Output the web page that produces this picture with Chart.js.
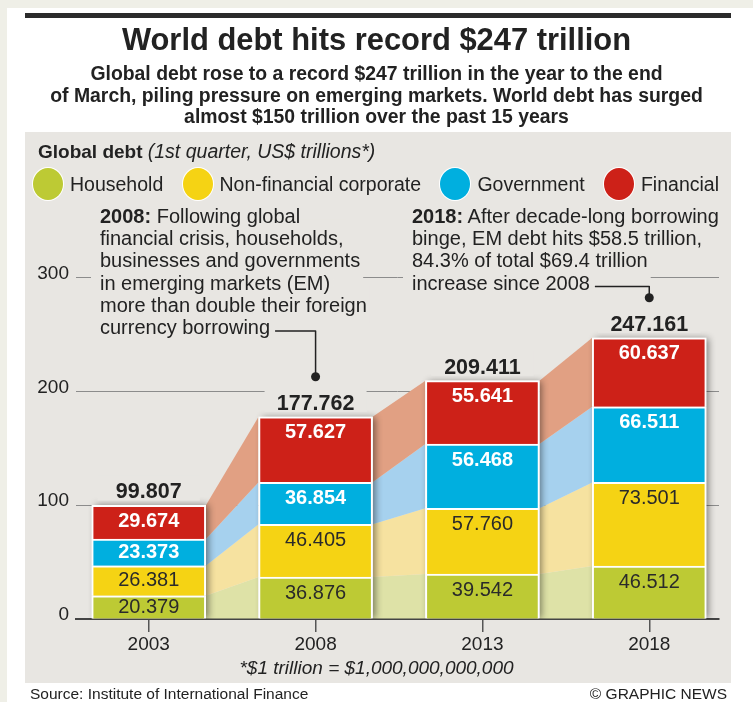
<!DOCTYPE html>
<html>
<head>
<meta charset="utf-8">
<script src="https://cdn.jsdelivr.net/npm/chart.js@4.4.1/dist/chart.umd.min.js"></script>
<style>
  body { margin: 0; width: 753px; height: 702px; position: relative; overflow: hidden; background: #fff;
         font-family: "Liberation Sans", Arial, sans-serif; color: #222; }
  .abs { position: absolute; }
  #topband { left: 0; top: 0; width: 753px; height: 8px; background: #efefe7; }
  #leftband { left: 0; top: 0; width: 7px; height: 702px; background: #efefe7; }
  #rule { left: 25px; top: 13px; width: 706px; height: 5px; background: #2b2b2b; }
  #panel { left: 25px; top: 132px; width: 706px; height: 551px; background: #e8e6e2; }
  #chart { position: absolute; left: 0; top: 0; }
  #title { left: 0; width: 753px; top: 22px; text-align: center; font-weight: bold; font-size: 30.9px; line-height: 35px; }
  #subtitle { left: 0; width: 753px; top: 63px; text-align: center; font-weight: bold; font-size: 19.4px; line-height: 21.7px; }
  #heading { left: 38px; top: 140px; font-size: 19px; line-height: 22px; white-space: nowrap; }
  #heading i { font-size: 19.5px; }
  #legend { left: 33px; top: 168px; width: 686px; height: 32px; display: flex; justify-content: space-between;
            align-items: center; font-size: 19.5px; line-height: 22px; white-space: nowrap; }
  #legend .item { display: flex; align-items: center; }
  #legend .dot { display: inline-block; width: 30px; height: 32px; border-radius: 50%; margin-right: 7px;
                 box-shadow: 0 0 0 1px #fff; }
  .ann { font-size: 20px; line-height: 22.2px; white-space: nowrap; top: 205px; }
  #footnote { left: 0; width: 753px; top: 657px; text-align: center; font-style: italic; font-size: 19px; line-height: 22px; }
  .src { top: 685px; font-size: 15.5px; line-height: 18px; }
</style>
</head>
<body>
<div class="abs" id="topband"></div>
<div class="abs" id="leftband"></div>
<div class="abs" id="rule"></div>
<div class="abs" id="panel"></div>
<canvas id="chart" width="753" height="702"></canvas>
<div class="abs" id="title">World debt hits record $247 trillion</div>
<div class="abs" id="subtitle">Global debt rose to a record $247 trillion in the year to the end<br>of March, piling pressure on emerging markets. World debt has surged<br>almost $150 trillion over the past 15 years</div>
<div class="abs" id="heading"><b>Global debt</b> <i>(1st quarter, US$ trillions*)</i></div>
<div class="abs ann" style="left:100px"><span class="ln"><b>2008:</b> Following global</span><br><span class="ln">financial crisis, households,</span><br><span class="ln">businesses and governments</span><br><span class="ln">in emerging markets (EM)</span><br><span class="ln">more than double their foreign</span><br><span class="ln" id="end08">currency borrowing</span></div>
<div class="abs ann" style="left:412px"><span class="ln"><b>2018:</b> After decade-long borrowing</span><br><span class="ln">binge, EM debt hits $58.5 trillion,</span><br><span class="ln">84.3% of total $69.4 trillion</span><br><span class="ln" id="end18">increase since 2008</span></div>
<div class="abs" id="legend"></div>
<div class="abs" id="footnote">*$1 trillion = $1,000,000,000,000</div>
<div class="abs src" style="left:30px">Source: Institute of International Finance</div>
<div class="abs src" style="right:26px">© GRAPHIC NEWS</div>
<script>
const years = [2003, 2008, 2013, 2018];
const household = [20.379, 36.876, 39.542, 46.512];
const nonFinancial = [26.381, 46.405, 57.760, 73.501];
const government = [23.373, 36.854, 56.468, 66.511];
const financial = [29.674, 57.627, 55.641, 60.637];
const totals = [99.807, 177.762, 209.411, 247.161];
const seriesNames = ['Household', 'Non-financial corporate', 'Government', 'Financial'];
const yTicks = [0, 100, 200, 300];

const seriesValues = [household, nonFinancial, government, financial];
const barColors = ['#bdca34', '#f5d314', '#00afdf', '#cd2118'];
const bandColors = ['#dee2a7', '#f6e2a0', '#a6d1ee', '#e1a083'];
const labelColors = ['#2a2a2a', '#2a2a2a', '#ffffff', '#ffffff'];
const labelBold = [false, false, true, true];
const panelColor = '#e8e6e2';
const fontFamily = '"Liberation Sans", Arial, sans-serif';

// annotations pointing at the 2008 and 2018 bars
const callouts = [
    { index: 1, spanId: 'end08' },
    { index: 3, spanId: 'end18' }
];

// legend
const legend = document.getElementById('legend');
seriesNames.forEach((name, i) => {
    const item = document.createElement('div');
    item.className = 'item';
    item.innerHTML = `<span class="dot" style="background:${barColors[i]}"></span>${name}`;
    legend.appendChild(item);
});

function localRect(el, canvas) {
    const r = el.getBoundingClientRect();
    const c = canvas.getBoundingClientRect();
    return { left: r.left - c.left, right: r.right - c.left, top: r.top - c.top, bottom: r.bottom - c.top };
}

const debtPlugin = {
    id: 'debtPlugin',
    beforeDatasetsDraw(chart) {
        const ctx = chart.ctx;
        const metas = seriesNames.map((n, i) => chart.getDatasetMeta(i));

        // hide gridlines behind the annotation text
        ctx.save();
        ctx.fillStyle = panelColor;
        document.querySelectorAll('.ann .ln').forEach(el => {
            const r = localRect(el, chart.canvas);
            ctx.fillRect(r.left - 9, r.top - 8, r.right - r.left + 12, r.bottom - r.top + 16);
        });
        ctx.restore();

        // light bands joining the bars
        ctx.save();
        metas.forEach((meta, i) => {
            for (let j = 0; j < meta.data.length - 1; j++) {
                const a = meta.data[j], b = meta.data[j + 1];
                ctx.beginPath();
                ctx.moveTo(a.x + a.width / 2, a.y);
                ctx.lineTo(b.x - b.width / 2, b.y);
                ctx.lineTo(b.x - b.width / 2, b.base);
                ctx.lineTo(a.x + a.width / 2, a.base);
                ctx.closePath();
                ctx.fillStyle = bandColors[i];
                ctx.fill();
            }
        });
        ctx.restore();

        // drop shadow behind each stack
        const area = chart.chartArea;
        ctx.save();
        ctx.beginPath();
        ctx.rect(area.left, area.top - 60, area.right - area.left, area.bottom - area.top + 60);
        ctx.clip();
        const first = metas[0], last = metas[metas.length - 1];
        first.data.forEach((bar, j) => {
            const top = last.data[j].y;
            ctx.shadowColor = 'rgba(0,0,0,0.45)';
            ctx.shadowBlur = 7;
            ctx.shadowOffsetX = 3;
            ctx.fillStyle = panelColor;
            ctx.fillRect(bar.x - bar.width / 2, top, bar.width, bar.base - top);
        });
        ctx.restore();
    },
    afterDatasetsDraw(chart) {
        const ctx = chart.ctx;
        ctx.save();
        ctx.textAlign = 'center';
        // segment values
        seriesNames.forEach((n, i) => {
            const meta = chart.getDatasetMeta(i);
            ctx.fillStyle = labelColors[i];
            ctx.font = (labelBold[i] ? 'bold ' : '') + '20px ' + fontFamily;
            ctx.textBaseline = 'middle';
            meta.data.forEach((bar, j) => {
                const top = Math.min(bar.y, bar.base), bottom = Math.max(bar.y, bar.base);
                const cy = Math.min(top + 16, (top + bottom) / 2);
                ctx.fillText(seriesValues[i][j].toFixed(3), bar.x, cy);
            });
        });
        // totals above the bars
        const last = chart.getDatasetMeta(seriesNames.length - 1);
        ctx.font = 'bold 21.5px ' + fontFamily;
        ctx.textBaseline = 'alphabetic';
        last.data.forEach((bar, j) => {
            const base = bar.y - 7;
            ctx.fillStyle = panelColor;
            ctx.fillRect(bar.x - 51, base - 23, 102, 25);
            ctx.fillStyle = '#222';
            ctx.fillText(totals[j].toFixed(3), bar.x, base);
        });
        ctx.restore();
    },
    afterDraw(chart) {
        const ctx = chart.ctx;
        const last = chart.getDatasetMeta(seriesNames.length - 1);
        ctx.save();
        ctx.strokeStyle = '#222';
        ctx.fillStyle = '#222';
        ctx.lineWidth = 1.5;
        ctx.lineJoin = 'round';
        callouts.forEach(c => {
            const r = localRect(document.getElementById(c.spanId), chart.canvas);
            const bar = last.data[c.index];
            const lineY = r.bottom - 7;
            const dotY = bar.y - 40;
            ctx.beginPath();
            ctx.moveTo(r.right + 5, lineY);
            ctx.lineTo(bar.x, lineY);
            ctx.lineTo(bar.x, dotY);
            ctx.stroke();
            ctx.beginPath();
            ctx.arc(bar.x, dotY, 4.5, 0, Math.PI * 2);
            ctx.fill();
        });
        ctx.restore();
    }
};

new Chart(document.getElementById('chart').getContext('2d'), {
    type: 'bar',
    data: {
        datasets: seriesNames.map((name, i) => ({
            label: name,
            data: years.map((yr, j) => ({ x: yr, y: seriesValues[i][j] })),
            backgroundColor: barColors[i],
            borderColor: '#ffffff',
            borderWidth: 2,
            barThickness: 114,
            stack: 'debt'
        }))
    },
    options: {
        responsive: false,
        animation: false,
        devicePixelRatio: 1,
        layout: { padding: { top: 277.6, right: 34, bottom: 0, left: 0 } },
        plugins: { legend: { display: false }, tooltip: { enabled: false } },
        scales: {
            x: {
                type: 'linear',
                offset: false,
                min: 2000.82,
                max: 2020.09,
                afterBuildTicks: s => { s.ticks = years.map(v => ({ value: v })); },
                afterFit: s => { s.height = 83; },
                grid: { offset: false, drawOnChartArea: false, drawTicks: true, tickLength: 13, color: '#555', lineWidth: 1.5 },
                border: { display: true, color: '#444', width: 2 },
                ticks: { padding: 1, color: '#222', autoSkip: false, maxRotation: 0,
                         font: { family: fontFamily, size: 19 }, callback: v => String(v) }
            },
            y: {
                stacked: true,
                min: 0,
                max: 300,
                afterBuildTicks: s => { s.ticks = yTicks.map(v => ({ value: v })); },
                afterFit: s => { s.width = 76; },
                grid: { color: '#8c8c8c', lineWidth: 1, drawTicks: false },
                border: { display: false },
                ticks: { padding: 7, color: '#222', labelOffset: -4, font: { family: fontFamily, size: 19 } }
            }
        }
    },
    plugins: [debtPlugin]
});
</script>
</body>
</html>
